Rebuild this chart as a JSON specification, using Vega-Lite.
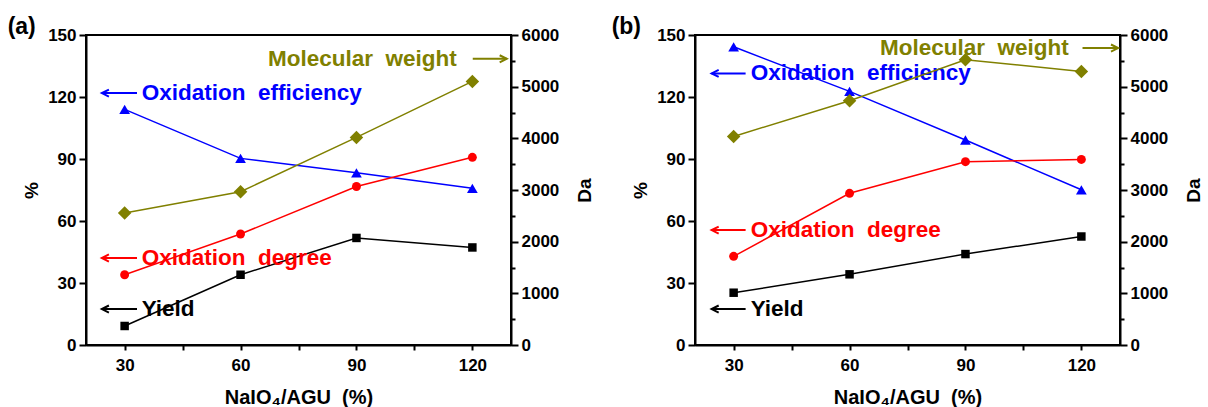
{
  "$schema": "https://vega.github.io/schema/vega-lite/v6.json",
  "background": "white",
  "padding": {"left": 6, "top": 15, "right": 5, "bottom": 0},
  "spacing": 14,
  "config": {
    "view": {"stroke": "black", "strokeWidth": 2},
    "font": "Liberation Sans",
    "axis": {
      "grid": false,
      "domainColor": "black", "domainWidth": 2,
      "tickColor": "black", "tickWidth": 2,
      "labelColor": "black", "labelFont": "Liberation Sans", "labelFontSize": 17, "labelFontWeight": "bold",
      "titleColor": "black", "titleFont": "Liberation Sans", "titleFontSize": 19, "titleFontWeight": "bold",
      "labelOverlap": false
    },
    "title": {"font": "Liberation Sans", "fontSize": 23, "fontWeight": "bold", "color": "black", "anchor": "start", "offset": -13}
  },
  "datasets": {
    "series": [
      {"panel": "a", "ratio": 30, "series": "Oxidation efficiency", "value": 114},
      {"panel": "a", "ratio": 60, "series": "Oxidation efficiency", "value": 90.3},
      {"panel": "a", "ratio": 90, "series": "Oxidation efficiency", "value": 83.3},
      {"panel": "a", "ratio": 120, "series": "Oxidation efficiency", "value": 75.8},
      {"panel": "a", "ratio": 30, "series": "Oxidation degree", "value": 34},
      {"panel": "a", "ratio": 60, "series": "Oxidation degree", "value": 53.7},
      {"panel": "a", "ratio": 90, "series": "Oxidation degree", "value": 76.7},
      {"panel": "a", "ratio": 120, "series": "Oxidation degree", "value": 90.8},
      {"panel": "a", "ratio": 30, "series": "Yield", "value": 9.2},
      {"panel": "a", "ratio": 60, "series": "Yield", "value": 34},
      {"panel": "a", "ratio": 90, "series": "Yield", "value": 51.8},
      {"panel": "a", "ratio": 120, "series": "Yield", "value": 47.2},
      {"panel": "a", "ratio": 30, "series": "Molecular weight", "value": 2555},
      {"panel": "a", "ratio": 60, "series": "Molecular weight", "value": 2967},
      {"panel": "a", "ratio": 90, "series": "Molecular weight", "value": 4018},
      {"panel": "a", "ratio": 120, "series": "Molecular weight", "value": 5102},
      {"panel": "b", "ratio": 30, "series": "Oxidation efficiency", "value": 144.3},
      {"panel": "b", "ratio": 60, "series": "Oxidation efficiency", "value": 122.7},
      {"panel": "b", "ratio": 90, "series": "Oxidation efficiency", "value": 99.2},
      {"panel": "b", "ratio": 120, "series": "Oxidation efficiency", "value": 75.1},
      {"panel": "b", "ratio": 30, "series": "Oxidation degree", "value": 42.9},
      {"panel": "b", "ratio": 60, "series": "Oxidation degree", "value": 73.4},
      {"panel": "b", "ratio": 90, "series": "Oxidation degree", "value": 88.7},
      {"panel": "b", "ratio": 120, "series": "Oxidation degree", "value": 89.8},
      {"panel": "b", "ratio": 30, "series": "Yield", "value": 25.3},
      {"panel": "b", "ratio": 60, "series": "Yield", "value": 34.2},
      {"panel": "b", "ratio": 90, "series": "Yield", "value": 44.0},
      {"panel": "b", "ratio": 120, "series": "Yield", "value": 52.5},
      {"panel": "b", "ratio": 30, "series": "Molecular weight", "value": 4037},
      {"panel": "b", "ratio": 60, "series": "Molecular weight", "value": 4728},
      {"panel": "b", "ratio": 90, "series": "Molecular weight", "value": 5522},
      {"panel": "b", "ratio": 120, "series": "Molecular weight", "value": 5295}
    ],
    "notes": [
      {"panel": "a", "series": "Molecular weight", "label": "Molecular\u00a0\u00a0weight", "tx": 67.1, "ty": 138.5, "tail": 120.1, "head": 128.9, "dir": "right"},
      {"panel": "a", "series": "Oxidation efficiency", "label": "Oxidation\u00a0\u00a0efficiency", "tx": 34.4, "ty": 121.9, "tail": 33.2, "head": 24.1, "dir": "left"},
      {"panel": "a", "series": "Oxidation degree", "label": "Oxidation\u00a0\u00a0degree", "tx": 34.4, "ty": 42.1, "tail": 33.2, "head": 24.1, "dir": "left"},
      {"panel": "a", "series": "Yield", "label": "Yield", "tx": 34.4, "ty": 17.4, "tail": 33.2, "head": 24.1, "dir": "left"},
      {"panel": "b", "series": "Molecular weight", "label": "Molecular\u00a0\u00a0weight", "tx": 67.9, "ty": 143.7, "tail": 120.3, "head": 129.5, "dir": "right"},
      {"panel": "b", "series": "Oxidation efficiency", "label": "Oxidation\u00a0\u00a0efficiency", "tx": 34.4, "ty": 131.4, "tail": 33.1, "head": 24.3, "dir": "left"},
      {"panel": "b", "series": "Oxidation degree", "label": "Oxidation\u00a0\u00a0degree", "tx": 34.4, "ty": 55.6, "tail": 33.1, "head": 24.3, "dir": "left"},
      {"panel": "b", "series": "Yield", "label": "Yield", "tx": 34.4, "ty": 17.4, "tail": 33.1, "head": 24.3, "dir": "left"}
    ]
  },
  "hconcat": [
    {
      "width": 425, "height": 310,
      "title": {"text": "(a)", "dx": -15},
      "layer": [
        {
          "layer": [
            {
              "data": {"name": "series"},
              "transform": [{"filter": "datum.panel === 'a' && datum.series !== 'Molecular weight'"}],
              "mark": {"type": "line", "strokeWidth": 1.5},
              "encoding": {
                "x": {"field": "ratio", "type": "quantitative", "scale": {"domain": [20, 130], "nice": false, "zero": false},
                  "axis": {"title": "NaIO₄/AGU\u00a0\u00a0(%)", "titleFontSize": 20, "values": [30, 45, 60, 75, 90, 105, 120],
                    "labelExpr": "datum.value % 30 === 0 ? datum.label : ''",
                    "tickSize": 5, "labelPadding": 7, "titlePadding": 14}},
                "y": {"field": "value", "type": "quantitative", "scale": {"domain": [0, 150], "nice": false},
                  "axis": {"title": "%", "values": [0, 15, 30, 45, 60, 75, 90, 105, 120, 135, 150],
                    "labelExpr": "datum.value % 30 === 0 ? datum.label : ''",
                    "tickSize": {"condition": {"test": "datum.value % 30 === 0", "value": 7}, "value": 4},
                    "labelPadding": 3, "titlePadding": 6}},
                "color": {"field": "series", "type": "nominal", "legend": null,
                  "scale": {"domain": ["Oxidation efficiency", "Oxidation degree", "Yield", "Molecular weight"], "range": ["#0000ff", "#ff0000", "#000000", "#808000"]}}
              }
            },
            {
              "data": {"name": "series"},
              "transform": [{"filter": "datum.panel === 'a' && datum.series !== 'Molecular weight'"}],
              "mark": {"type": "point", "filled": true, "opacity": 1},
              "encoding": {
                "x": {"field": "ratio", "type": "quantitative"},
                "y": {"field": "value", "type": "quantitative"},
                "color": {"field": "series", "type": "nominal", "legend": null},
                "shape": {"field": "series", "type": "nominal", "legend": null,
                  "scale": {"domain": ["Oxidation efficiency", "Oxidation degree", "Yield", "Molecular weight"], "range": ["triangle-up", "circle", "square", "diamond"]}},
                "size": {"field": "series", "type": "nominal", "legend": null,
                  "scale": {"type": "ordinal", "domain": ["Oxidation efficiency", "Oxidation degree", "Yield", "Molecular weight"], "range": [115, 80, 72, 120]}}
              }
            },
            {
              "data": {"name": "notes"},
              "transform": [{"filter": "datum.panel === 'a'"}],
              "mark": {"type": "text", "align": "left", "baseline": "middle", "fontSize": 22.5, "fontWeight": "bold", "font": "Liberation Sans"},
              "encoding": {
                "x": {"field": "tx", "type": "quantitative"},
                "y": {"field": "ty", "type": "quantitative"},
                "text": {"field": "label"},
                "color": {"field": "series", "type": "nominal", "legend": null}
              }
            },
            {
              "data": {"name": "notes"},
              "transform": [{"filter": "datum.panel === 'a'"}],
              "mark": {"type": "rule", "strokeWidth": 2},
              "encoding": {
                "x": {"field": "tail", "type": "quantitative"},
                "x2": {"field": "head"},
                "y": {"field": "ty", "type": "quantitative"},
                "color": {"field": "series", "type": "nominal", "legend": null}
              }
            },
            {
              "data": {"name": "notes"},
              "transform": [{"filter": "datum.panel === 'a' && datum.dir === 'left'"}],
              "mark": {"type": "point", "filled": false, "strokeWidth": 2, "opacity": 1, "size": 200, "shape": "M1,-0.5L0,0L1,0.5"},
              "encoding": {
                "x": {"field": "head", "type": "quantitative"},
                "y": {"field": "ty", "type": "quantitative"},
                "color": {"field": "series", "type": "nominal", "legend": null}
              }
            },
            {
              "data": {"name": "notes"},
              "transform": [{"filter": "datum.panel === 'a' && datum.dir === 'right'"}],
              "mark": {"type": "point", "filled": false, "strokeWidth": 2, "opacity": 1, "size": 200, "shape": "M-1,-0.5L0,0L-1,0.5"},
              "encoding": {
                "x": {"field": "head", "type": "quantitative"},
                "y": {"field": "ty", "type": "quantitative"},
                "color": {"field": "series", "type": "nominal", "legend": null}
              }
            }
          ]
        },
        {
          "data": {"name": "series"},
          "transform": [{"filter": "datum.panel === 'a' && datum.series === 'Molecular weight'"}],
          "encoding": {
            "x": {"field": "ratio", "type": "quantitative"},
            "y": {"field": "value", "type": "quantitative", "scale": {"domain": [0, 6000], "nice": false},
              "axis": {"orient": "right", "title": "Da", "titleAngle": 270, "titleBaseline": "top", "format": "d",
                "values": [0, 500, 1000, 1500, 2000, 2500, 3000, 3500, 4000, 4500, 5000, 5500, 6000],
                "labelExpr": "datum.value % 1000 === 0 ? datum.label : ''",
                "tickSize": {"condition": {"test": "datum.value % 1000 === 0", "value": 7}, "value": 4},
                "labelPadding": 3, "titlePadding": 17}},
            "color": {"field": "series", "type": "nominal", "legend": null}
          },
          "layer": [
            {"mark": {"type": "line", "strokeWidth": 1.5}},
            {"mark": {"type": "point", "filled": true, "opacity": 1},
              "encoding": {
                "shape": {"field": "series", "type": "nominal", "legend": null},
                "size": {"field": "series", "type": "nominal", "legend": null}
              }}
          ]
        }
      ],
      "resolve": {"scale": {"y": "independent"}}
    },
    {
      "width": 425, "height": 310,
      "title": {"text": "(b)", "dx": -20},
      "layer": [
        {
          "layer": [
            {
              "data": {"name": "series"},
              "transform": [{"filter": "datum.panel === 'b' && datum.series !== 'Molecular weight'"}],
              "mark": {"type": "line", "strokeWidth": 1.5},
              "encoding": {
                "x": {"field": "ratio", "type": "quantitative", "scale": {"domain": [20, 130], "nice": false, "zero": false},
                  "axis": {"title": "NaIO₄/AGU\u00a0\u00a0(%)", "titleFontSize": 20, "values": [30, 45, 60, 75, 90, 105, 120],
                    "labelExpr": "datum.value % 30 === 0 ? datum.label : ''",
                    "tickSize": 5, "labelPadding": 7, "titlePadding": 14}},
                "y": {"field": "value", "type": "quantitative", "scale": {"domain": [0, 150], "nice": false},
                  "axis": {"title": "%", "values": [0, 15, 30, 45, 60, 75, 90, 105, 120, 135, 150],
                    "labelExpr": "datum.value % 30 === 0 ? datum.label : ''",
                    "tickSize": {"condition": {"test": "datum.value % 30 === 0", "value": 7}, "value": 4},
                    "labelPadding": 3, "titlePadding": 6}},
                "color": {"field": "series", "type": "nominal", "legend": null,
                  "scale": {"domain": ["Oxidation efficiency", "Oxidation degree", "Yield", "Molecular weight"], "range": ["#0000ff", "#ff0000", "#000000", "#808000"]}}
              }
            },
            {
              "data": {"name": "series"},
              "transform": [{"filter": "datum.panel === 'b' && datum.series !== 'Molecular weight'"}],
              "mark": {"type": "point", "filled": true, "opacity": 1},
              "encoding": {
                "x": {"field": "ratio", "type": "quantitative"},
                "y": {"field": "value", "type": "quantitative"},
                "color": {"field": "series", "type": "nominal", "legend": null},
                "shape": {"field": "series", "type": "nominal", "legend": null,
                  "scale": {"domain": ["Oxidation efficiency", "Oxidation degree", "Yield", "Molecular weight"], "range": ["triangle-up", "circle", "square", "diamond"]}},
                "size": {"field": "series", "type": "nominal", "legend": null,
                  "scale": {"type": "ordinal", "domain": ["Oxidation efficiency", "Oxidation degree", "Yield", "Molecular weight"], "range": [115, 80, 72, 120]}}
              }
            },
            {
              "data": {"name": "notes"},
              "transform": [{"filter": "datum.panel === 'b'"}],
              "mark": {"type": "text", "align": "left", "baseline": "middle", "fontSize": 22.5, "fontWeight": "bold", "font": "Liberation Sans"},
              "encoding": {
                "x": {"field": "tx", "type": "quantitative"},
                "y": {"field": "ty", "type": "quantitative"},
                "text": {"field": "label"},
                "color": {"field": "series", "type": "nominal", "legend": null}
              }
            },
            {
              "data": {"name": "notes"},
              "transform": [{"filter": "datum.panel === 'b'"}],
              "mark": {"type": "rule", "strokeWidth": 2},
              "encoding": {
                "x": {"field": "tail", "type": "quantitative"},
                "x2": {"field": "head"},
                "y": {"field": "ty", "type": "quantitative"},
                "color": {"field": "series", "type": "nominal", "legend": null}
              }
            },
            {
              "data": {"name": "notes"},
              "transform": [{"filter": "datum.panel === 'b' && datum.dir === 'left'"}],
              "mark": {"type": "point", "filled": false, "strokeWidth": 2, "opacity": 1, "size": 200, "shape": "M1,-0.5L0,0L1,0.5"},
              "encoding": {
                "x": {"field": "head", "type": "quantitative"},
                "y": {"field": "ty", "type": "quantitative"},
                "color": {"field": "series", "type": "nominal", "legend": null}
              }
            },
            {
              "data": {"name": "notes"},
              "transform": [{"filter": "datum.panel === 'b' && datum.dir === 'right'"}],
              "mark": {"type": "point", "filled": false, "strokeWidth": 2, "opacity": 1, "size": 200, "shape": "M-1,-0.5L0,0L-1,0.5"},
              "encoding": {
                "x": {"field": "head", "type": "quantitative"},
                "y": {"field": "ty", "type": "quantitative"},
                "color": {"field": "series", "type": "nominal", "legend": null}
              }
            }
          ]
        },
        {
          "data": {"name": "series"},
          "transform": [{"filter": "datum.panel === 'b' && datum.series === 'Molecular weight'"}],
          "encoding": {
            "x": {"field": "ratio", "type": "quantitative"},
            "y": {"field": "value", "type": "quantitative", "scale": {"domain": [0, 6000], "nice": false},
              "axis": {"orient": "right", "title": "Da", "titleAngle": 270, "titleBaseline": "top", "format": "d",
                "values": [0, 500, 1000, 1500, 2000, 2500, 3000, 3500, 4000, 4500, 5000, 5500, 6000],
                "labelExpr": "datum.value % 1000 === 0 ? datum.label : ''",
                "tickSize": {"condition": {"test": "datum.value % 1000 === 0", "value": 7}, "value": 4},
                "labelPadding": 3, "titlePadding": 17}},
            "color": {"field": "series", "type": "nominal", "legend": null}
          },
          "layer": [
            {"mark": {"type": "line", "strokeWidth": 1.5}},
            {"mark": {"type": "point", "filled": true, "opacity": 1},
              "encoding": {
                "shape": {"field": "series", "type": "nominal", "legend": null},
                "size": {"field": "series", "type": "nominal", "legend": null}
              }}
          ]
        }
      ],
      "resolve": {"scale": {"y": "independent"}}
    }
  ]
}
